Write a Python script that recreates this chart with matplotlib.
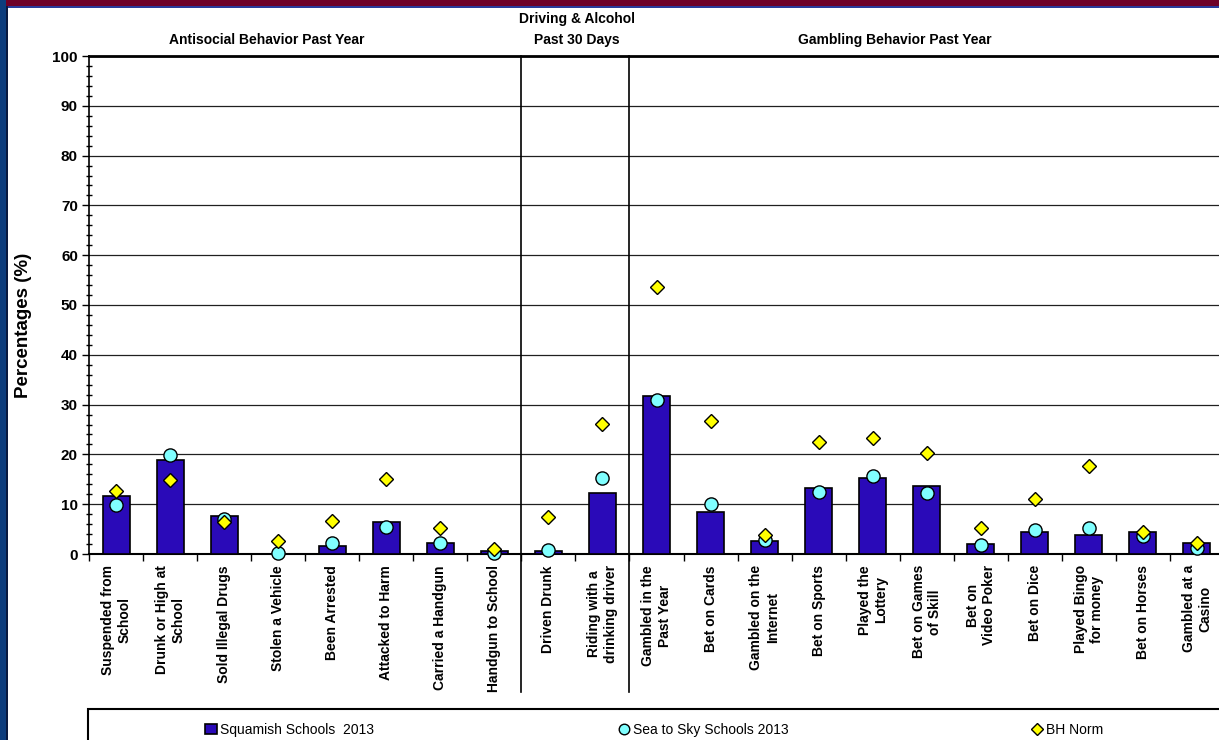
import numpy as np
import matplotlib.pyplot as plt
from matplotlib.patches import Rectangle
from matplotlib.ticker import MultipleLocator

plt.rcParams['font.family'] = ['Liberation Sans', 'DejaVu Sans']

categories = [
    'Suspended from\nSchool', 'Drunk or High at\nSchool', 'Sold Illegal Drugs',
    'Stolen a Vehicle', 'Been Arrested', 'Attacked to Harm', 'Carried a Handgun',
    'Handgun to School', 'Driven Drunk', 'Riding with a\ndrinking driver',
    'Gambled in the\nPast Year', 'Bet on Cards', 'Gambled on the\nInternet',
    'Bet on Sports', 'Played the\nLottery', 'Bet on Games\nof Skill',
    'Bet on\nVideo Poker', 'Bet on Dice', 'Played Bingo\nfor money',
    'Bet on Horses', 'Gambled at a\nCasino',
]
squamish = [11.7, 18.9, 7.7, 0.0, 1.7, 6.5, 2.3, 0.6, 0.6, 12.2,
            31.7, 8.5, 2.7, 13.2, 15.3, 13.7, 2.1, 4.5, 3.9, 4.5, 2.2]
sea_to_sky = [9.8, 19.8, 7.1, 0.3, 2.3, 5.4, 2.3, 0.3, 0.8, 15.2,
              30.9, 10.0, 2.9, 12.4, 15.7, 12.3, 1.8, 4.9, 5.2, 3.7, 1.3]
bh_norm = [12.6, 14.9, 6.5, 2.6, 6.7, 15.0, 5.3, 1.0, 7.4, 26.2,
           53.6, 26.8, 3.9, 22.4, 23.3, 20.3, 5.2, 11.0, 17.6, 4.5, 2.2]
group_breaks = [8, 10]

W, H = 1219, 740
fig = plt.figure(figsize=(W / 100, H / 100), dpi=100)
fig.patch.set_facecolor('white')

# outer frame decorations
fig.patches.append(Rectangle((0, 1 - 6 / H), 1, 6 / H, transform=fig.transFigure,
                             facecolor='#6e0028', edgecolor='none', zorder=0))
fig.patches.append(Rectangle((0, 1 - 7.5 / H), 1, 1.5 / H, transform=fig.transFigure,
                             facecolor='#2a3a9a', edgecolor='none', zorder=0))
fig.patches.append(Rectangle((0, 0), 6 / W, 1, transform=fig.transFigure,
                             facecolor='#0d3d7d', edgecolor='none', zorder=0))
fig.patches.append(Rectangle((6 / W, 0), 1.5 / W, 1 - 6 / H, transform=fig.transFigure,
                             facecolor='#0a1a40', edgecolor='none', zorder=0))

ax = fig.add_axes([89 / W, 1 - 554 / H, (1224 - 89) / W, (554 - 56) / H])
x = np.arange(len(categories))

bars = ax.bar(x, squamish, width=0.5, color='#2a0ab8', edgecolor='black',
              linewidth=1.2, zorder=3, label='Squamish Schools  2013')
circ, = ax.plot(x, sea_to_sky, 'o', ms=9.5, mfc='#80ffff', mec='black', mew=1,
                zorder=4, clip_on=False, label='Sea to Sky Schools 2013')
diam, = ax.plot(x, bh_norm, 'D', ms=7.3, mfc='#ffff00', mec='black', mew=1,
                zorder=5, clip_on=False, label='BH Norm')

ax.set_xlim(-0.5, len(categories) - 0.5)
ax.set_ylim(0, 100)
ax.yaxis.set_major_locator(MultipleLocator(10))
ax.yaxis.set_minor_locator(MultipleLocator(2))
ax.yaxis.grid(True, color='#202020', lw=0.9)
ax.set_axisbelow(True)

ax.set_xticks(np.arange(-0.5, len(categories), 1))
ax.set_xticklabels([])
ax.set_xticks(x, minor=True)
ax.set_xticklabels(categories, minor=True, rotation=90, fontsize=10,
                   fontweight='bold', va='top', ha='center', multialignment='center')
ax.tick_params(axis='x', which='major', length=5, width=1, direction='out')
ax.tick_params(axis='x', which='minor', length=0, pad=8)
ax.tick_params(axis='y', which='major', length=5, width=1, labelsize=11, pad=3)
ax.tick_params(axis='y', which='minor', length=4, width=1, direction='inout')
for lab in ax.get_yticklabels():
    lab.set_fontweight('bold')

ax.spines['top'].set_linewidth(2)
ax.spines['left'].set_linewidth(1.2)
ax.spines['bottom'].set_linewidth(1.5)
ax.spines['right'].set_visible(False)

ax.set_ylabel('Percentages (%)', fontsize=13.5, fontweight='bold')
ax.yaxis.set_label_coords((32 - 89) / 1135, (554 - 325) / 498)

# group separators running down through the labels
for b in group_breaks:
    ax.axvline(b - 0.5, ymin=-0.277, ymax=1, color='black', lw=1.2,
               clip_on=False, zorder=2)

# group headings
fig.text(267 / W, 1 - 40 / H, 'Antisocial Behavior Past Year', ha='center',
         va='center', fontsize=10, fontweight='bold')
fig.text(577 / W, 1 - 19 / H, 'Driving & Alcohol', ha='center', va='center',
         fontsize=10, fontweight='bold')
fig.text(577 / W, 1 - 40 / H, 'Past 30 Days', ha='center', va='center',
         fontsize=10, fontweight='bold')
fig.text(895 / W, 1 - 40 / H, 'Gambling Behavior Past Year', ha='center',
         va='center', fontsize=10, fontweight='bold')

# legend box
fig.patches.append(Rectangle((88 / W, -0.1), (1240 - 88) / W, 0.1 + (740 - 709) / H,
                             transform=fig.transFigure, facecolor='white',
                             edgecolor='black', lw=1.5, zorder=1))
for h, xpos in [(bars, 205), (circ, 618), (diam, 1031)]:
    fig.legend([h], [h.get_label()], loc='center left',
               bbox_to_anchor=(xpos / W, 1 - 730 / H), frameon=False,
               borderpad=0, borderaxespad=0, handlelength=0.9, handletextpad=0.2,
               fontsize=10, markerscale=0.8)

fig.savefig('out.png', dpi=100)
